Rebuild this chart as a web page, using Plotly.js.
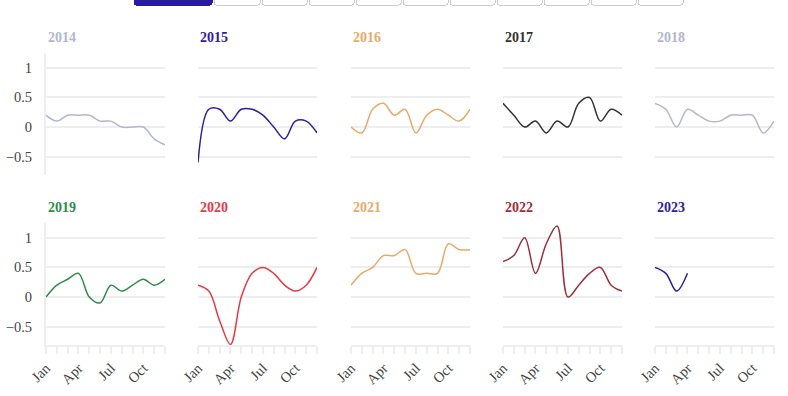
<!DOCTYPE html>
<html>
<head>
<meta charset="utf-8">
<script src="https://cdn.plot.ly/plotly-3.0.1.min.js"></script>
<style>html,body{margin:0;padding:0;background:#fff}#chart{width:788px;height:396px}</style>
</head>
<body>
<div id="chart"></div>
<script>
const months = ['Jan','Feb','Mar','Apr','May','Jun','Jul','Aug','Sep','Oct','Nov','Dec'];
const monthLabels = ['Jan','','','Apr','','','Jul','','','Oct','',''];
const years = ['2014','2015','2016','2017','2018','2019','2020','2021','2022','2023'];
const colors = ['#b4b6cf','#2d1e9e','#e9a96b','#333333','#b4b6cf','#2e8b4b','#e63a46','#e9a96b','#9c2f3c','#2d1e9e'];
const v2014 = [0.2,0.1,0.2,0.2,0.2,0.1,0.1,0.0,0.0,0.0,-0.2,-0.3];
const v2015 = [-0.6,0.3,0.3,0.1,0.3,0.3,0.2,0.0,-0.2,0.1,0.1,-0.1];
const v2016 = [0.0,-0.1,0.3,0.4,0.2,0.3,-0.1,0.2,0.3,0.2,0.1,0.3];
const v2017 = [0.4,0.2,0.0,0.1,-0.1,0.1,0.0,0.4,0.5,0.1,0.3,0.2];
const v2018 = [0.4,0.3,0.0,0.3,0.2,0.1,0.1,0.2,0.2,0.2,-0.1,0.1];
const v2019 = [0.0,0.2,0.3,0.4,0.0,-0.1,0.2,0.1,0.2,0.3,0.2,0.3];
const v2020 = [0.2,0.1,-0.4,-0.8,0.0,0.4,0.5,0.4,0.2,0.1,0.2,0.5];
const v2021 = [0.2,0.4,0.5,0.7,0.7,0.8,0.4,0.4,0.4,0.9,0.8,0.8];
const v2022 = [0.6,0.7,1.0,0.4,0.9,1.2,0.0,0.2,0.4,0.5,0.2,0.1];
const v2023 = [0.5,0.4,0.1,0.4];
const series = [v2014,v2015,v2016,v2017,v2018,v2019,v2020,v2021,v2022,v2023];
const buttonLabels = ['All ten years'].concat(years);

const FONT = 'Liberation Serif, DejaVu Serif, serif';
const ACTIVE = '#2a1a9e';
const W = 788, H = 396, ML = 46, MR = 14, MT = 53, MB = 51;
const plotW = W - ML - MR, plotH = H - MT - MB;
const colStart = [46,198,351,503,655], colW = 119;
const rowTop = [53,223], rowH = 122;

const traces = [], annotations = [];
const layout = {
  width: W, height: H,
  margin: {l: ML, r: MR, t: MT, b: MB, autoexpand: false},
  paper_bgcolor: '#fff', plot_bgcolor: '#fff',
  showlegend: false,
  font: {family: FONT, size: 14, color: '#444'},
  annotations: annotations,
  updatemenus: [{
    type: 'buttons', direction: 'right', showactive: true, active: 0,
    x: (133 - ML) / plotW, xanchor: 'left',
    y: (H - MB - 4) / plotH, yanchor: 'bottom',
    pad: {t: 0, r: 0, b: 0, l: 0},
    bgcolor: '#ffffff', bordercolor: '#cccccc', borderwidth: 1,
    font: {family: FONT, size: 10.5, color: '#444'},
    buttons: buttonLabels.map(l => ({label: l, method: 'skip', args: []}))
  }]
};

series.forEach((vals, i) => {
  const r = Math.floor(i / 5), c = i % 5;
  const n = i + 1, xa = 'xaxis' + (n === 1 ? '' : n), ya = 'yaxis' + (n === 1 ? '' : n);
  traces.push({
    x: months.slice(0, vals.length), y: vals,
    xaxis: 'x' + (n === 1 ? '' : n), yaxis: 'y' + (n === 1 ? '' : n),
    type: 'scatter', mode: 'lines',
    line: {color: colors[i], width: 1.5, shape: 'spline'},
    hoverinfo: 'skip'
  });
  const x0 = (colStart[c] - ML) / plotW, x1 = (colStart[c] + colW - ML) / plotW;
  const y1 = (H - MB - rowTop[r]) / plotH, y0 = (H - MB - rowTop[r] - rowH) / plotH;
  layout[xa] = {
    domain: [x0, x1], anchor: 'y' + (n === 1 ? '' : n),
    type: 'category', categoryorder: 'array', categoryarray: months,
    range: [0, 11], showgrid: false, zeroline: false,
    tickmode: 'array', tickvals: months, ticktext: monthLabels,
    showticklabels: r === 1, ticks: r === 1 ? 'outside' : '',
    ticklen: 7, tickwidth: 2, tickcolor: '#eeeeee',
    showline: r === 1, linecolor: '#eeeeee', linewidth: 2,
    tickangle: -45, tickfont: {family: FONT, size: 14.5, color: '#444'},
    fixedrange: true
  };
  layout[ya] = {
    domain: [y0, y1], anchor: 'x' + (n === 1 ? '' : n),
    range: [-0.81, 1.25], tickvals: [-0.5, 0, 0.5, 1], ticktext: ['−0.5','0','0.5','1'],
    showgrid: true, gridcolor: '#eeeeee', gridwidth: 2, zeroline: false,
    showticklabels: c === 0, ticks: '', ticklabelstandoff: 9,
    showline: c === 0, linecolor: '#eeeeee', linewidth: 2,
    tickfont: {family: FONT, size: 14.5, color: '#444'},
    fixedrange: true
  };
  annotations.push({
    text: '<b>' + years[i] + '</b>', xref: 'paper', yref: 'paper',
    x: x0, xanchor: 'left', y: (H - MB - (rowTop[r] - 16)) / plotH, yanchor: 'middle',
    showarrow: false, font: {family: FONT, size: 14, color: colors[i]}
  });
});

Plotly.newPlot('chart', traces, layout, {displayModeBar: false}).then(gd => {
  const rects = gd.querySelectorAll('.updatemenu-button rect');
  if (rects.length) {
    rects[0].style.fill = ACTIVE;
    rects[0].style.stroke = ACTIVE;
  }
});
</script>
</body>
</html>
